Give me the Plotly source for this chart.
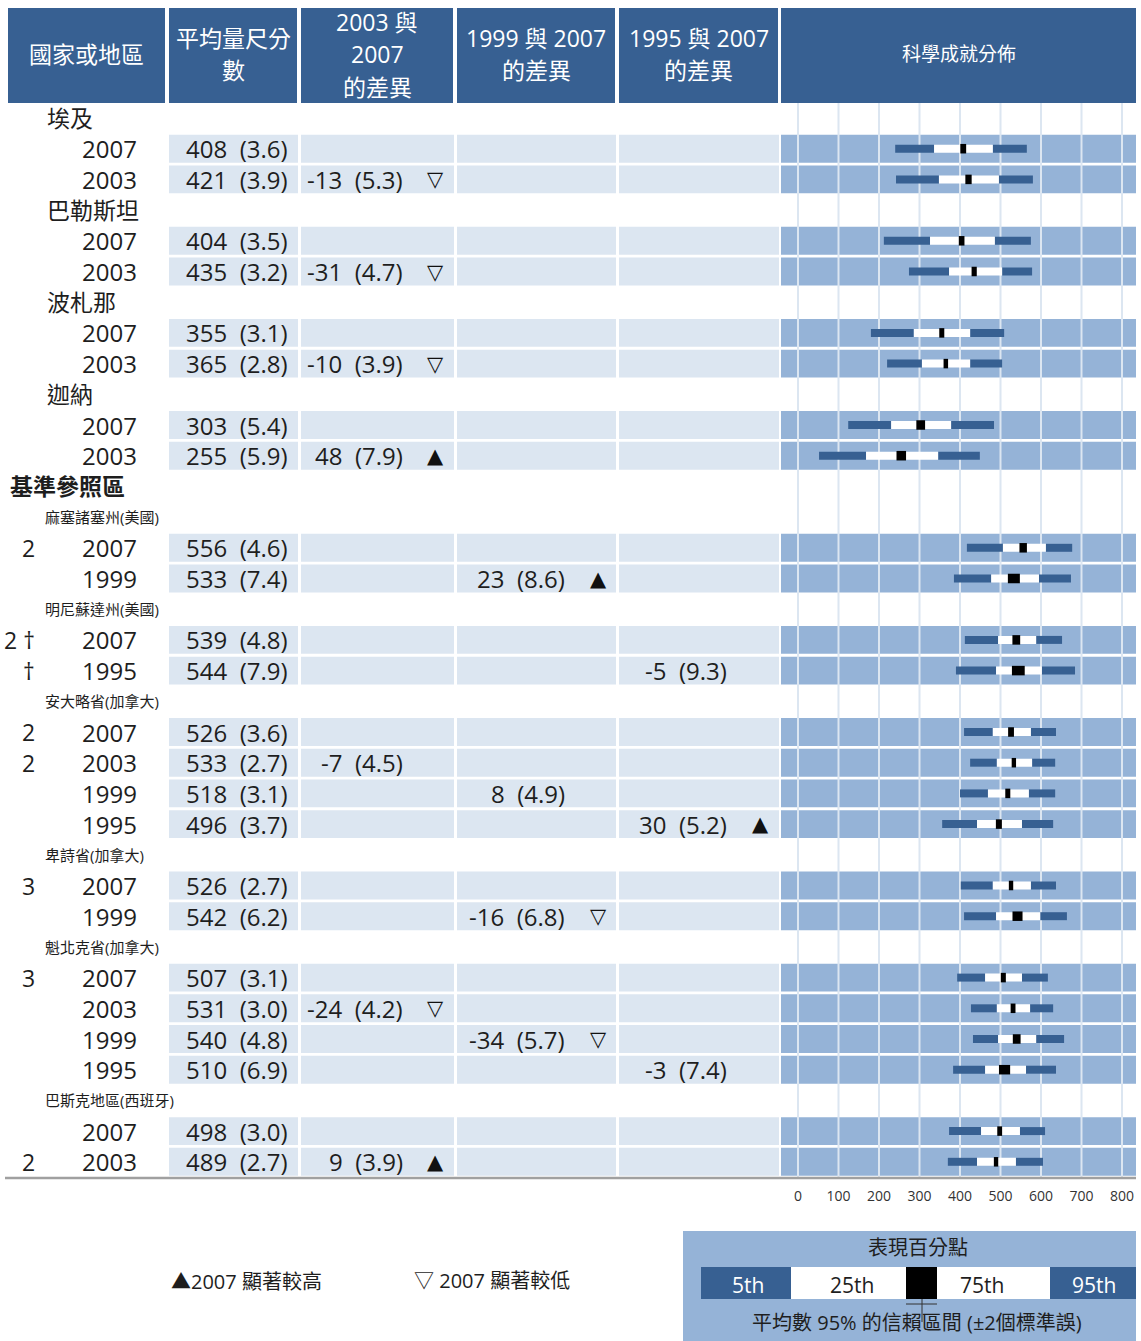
import plotly.graph_objects as go

# ---------------- data ----------------
groups = ["埃及", "巴勒斯坦", "波札那", "迦納",
          "麻塞諸塞州(美國)", "明尼蘇達州(美國)", "安大略省(加拿大)",
          "卑詩省(加拿大)", "魁北克省(加拿大)", "巴斯克地區(西班牙)"]
is_benchmark = [False, False, False, False, True, True, True, True, True, True]
group_sizes = [2, 2, 2, 2, 2, 2, 4, 2, 4, 2]

years = ["2007", "2003", "2007", "2003", "2007", "2003", "2007", "2003",
         "2007", "1999", "2007", "1995", "2007", "2003", "1999", "1995",
         "2007", "1999", "2007", "2003", "1999", "1995", "2007", "2003"]
means = [408, 421, 404, 435, 355, 365, 303, 255,
         556, 533, 539, 544, 526, 533, 518, 496,
         526, 542, 507, 531, 540, 510, 498, 489]
ses = [3.6, 3.9, 3.5, 3.2, 3.1, 2.8, 5.4, 5.9,
       4.6, 7.4, 4.8, 7.9, 3.6, 2.7, 3.1, 3.7,
       2.7, 6.2, 3.1, 3.0, 4.8, 6.9, 3.0, 2.7]
diffs = [None, -13, None, -31, None, -10, None, 48,
         None, 23, None, -5, None, -7, 8, 30,
         None, -16, None, -24, -34, -3, None, 9]
diff_ses = [None, 5.3, None, 4.7, None, 3.9, None, 7.9,
            None, 8.6, None, 9.3, None, 4.5, 4.9, 5.2,
            None, 6.8, None, 4.2, 5.7, 7.4, None, 3.9]
signif = ["", "down", "", "down", "", "down", "", "up",
          "", "up", "", "", "", "", "", "up",
          "", "down", "", "down", "down", "", "", "up"]
notes = ["", "", "", "", "", "", "", "",
         "2", "", "2 †", "†", "2", "2", "", "",
         "3", "", "3", "", "", "", "", "2"]

p5 = [240, 242, 212, 274, 180, 220, 124, 52,
      417, 385, 412, 390, 410, 425, 400, 356,
      402, 410, 393, 427, 432, 383, 373, 370]
p25 = [336, 348, 326, 373, 286, 306, 230, 168,
       506, 477, 494, 489, 481, 491, 469, 442,
       481, 489, 462, 491, 494, 462, 452, 442]
p75 = [481, 496, 486, 504, 425, 425, 378, 346,
       612, 595, 588, 602, 575, 578, 570, 553,
       575, 598, 553, 573, 588, 563, 548, 538]
p95 = [565, 580, 575, 578, 509, 504, 484, 449,
       677, 674, 652, 684, 637, 635, 635, 630,
       637, 664, 617, 630, 657, 637, 610, 605]

header_texts = [["國家或地區"], ["平均量尺分", "數"], ["2003 與", "2007", "的差異"],
                ["1999 與 2007", "的差異"], ["1995 與 2007", "的差異"], ["科學成就分佈"]]
benchmark_title = "基準參照區"
axis_ticks = [0, 100, 200, 300, 400, 500, 600, 700, 800]
legend_up = "▲2007 顯著較高"
legend_down = "▽ 2007 顯著較低"
pct_title = "表現百分點"
pct_labels = ["5th", "25th", "75th", "95th"]
pct_caption = "平均數 95% 的信賴區間 (±2個標準誤)"

# ---------------- layout geometry ----------------
W, H = 1141, 1341
ROW0, PITCH = 118, 30.7


def ry(pix):
    return (pix - ROW0) / PITCH


FONT = "Open Sans, Noto Sans CJK TC, sans-serif"
TXT = "#1e1e1e"
HEAD = "#376092"
LIGHT = "#DCE6F1"
BAND = "#95B3D7"
DARK = "#376092"
GAP = "&nbsp; "

col_x = [(8, 165), (169, 297), (301, 453), (457, 615), (619, 778), (781, 1136)]
X_LO = -17 / 0.405
X_HI = X_LO + (1136 - 781) / 0.405

# assign rows
row_of_data = []
group_rows = []
bench_row = None
r = 0
for gi, g in enumerate(groups):
    if is_benchmark[gi] and bench_row is None:
        bench_row = r
        r += 1
    group_rows.append(r)
    r += 1
    for _ in range(group_sizes[gi]):
        row_of_data.append(r)
        r += 1

shapes = []
ann = []

# header
for ci, (x0, x1) in enumerate(col_x):
    shapes.append(dict(type="rect", xref="x2", yref="y", x0=x0, x1=x1, y0=ry(8), y1=ry(103),
                       fillcolor=HEAD, line=dict(width=0), layer="below"))
    lines = header_texts[ci]
    n = len(lines)
    fs = 19 if ci == 5 else 23
    for li, t in enumerate(lines):
        yc = 54 + (li - (n - 1) / 2) * 32.5
        ann.append(dict(x=(x0 + x1) / 2, y=ry(yc), xref="x2", yref="y", text=t,
                        showarrow=False, xanchor="center", yanchor="middle",
                        font=dict(family=FONT, size=fs, color="white")))

# cells & bands for data rows
HH = 0.455
for i, rr in enumerate(row_of_data):
    for ci in range(1, 5):
        x0, x1 = col_x[ci]
        shapes.append(dict(type="rect", xref="x2", yref="y", x0=x0, x1=x1 + 1,
                           y0=rr - HH, y1=rr + HH, fillcolor=LIGHT, line=dict(width=0), layer="below"))
    shapes.append(dict(type="rect", xref="x domain", yref="y", x0=0, x1=1,
                       y0=rr - HH, y1=rr + HH, fillcolor=BAND, line=dict(width=0), layer="below"))

# grid lines in distribution panel
for v in axis_ticks:
    shapes.append(dict(type="line", xref="x", yref="y", x0=v, x1=v, y0=ry(103), y1=ry(1178),
                       line=dict(color=LIGHT, width=2), layer="below"))

# bottom rule
shapes.append(dict(type="line", xref="x2", yref="y", x0=5, x1=1136, y0=ry(1178), y1=ry(1178),
                   line=dict(color="#A0A0A0", width=2.5)))

# text: group labels
for gi, g in enumerate(groups):
    if is_benchmark[gi]:
        ann.append(dict(x=43, y=group_rows[gi], xref="x2", yref="y", text=g, showarrow=False,
                        xanchor="left", yanchor="middle", font=dict(family=FONT, size=15, color=TXT)))
    else:
        ann.append(dict(x=45, y=group_rows[gi], xref="x2", yref="y", text=g, showarrow=False,
                        xanchor="left", yanchor="middle", font=dict(family=FONT, size=23, color=TXT)))
ann.append(dict(x=8, y=bench_row, xref="x2", yref="y", text="<b>" + benchmark_title + "</b>",
                showarrow=False, xanchor="left", yanchor="middle",
                font=dict(family=FONT, size=23, color=TXT)))

diff_col = {"2003": (403, 435), "1999": (565, 598), "1995": (727, 760)}
for i, rr in enumerate(row_of_data):
    ann.append(dict(x=139, y=rr, xref="x2", yref="y", text=years[i], showarrow=False,
                    xanchor="right", yanchor="middle", font=dict(family=FONT, size=24, color=TXT)))
    ann.append(dict(x=290, y=rr, xref="x2", yref="y", text=f"{means[i]}{GAP}({ses[i]:.1f})",
                    showarrow=False, xanchor="right", yanchor="middle",
                    font=dict(family=FONT, size=24, color=TXT)))
    if notes[i]:
        ann.append(dict(x=37, y=rr, xref="x2", yref="y", text=notes[i], showarrow=False,
                        xanchor="right", yanchor="middle", font=dict(family=FONT, size=23, color=TXT)))
    if diffs[i] is not None:
        xr, xt = diff_col[years[i]]
        ann.append(dict(x=xr + 2, y=rr, xref="x2", yref="y", text=f"{diffs[i]}{GAP}({diff_ses[i]:.1f})",
                        showarrow=False, xanchor="right", yanchor="middle",
                        font=dict(family=FONT, size=24, color=TXT)))
        if signif[i]:
            sym = "▲" if signif[i] == "up" else "▽"
            ann.append(dict(x=xt, y=rr, xref="x2", yref="y", text=sym, showarrow=False,
                            xanchor="center", yanchor="middle",
                            font=dict(family="DejaVu Sans", size=21, color="#111")))

# bottom legend
ann.append(dict(x=169, y=ry(1281), xref="x2", yref="y", text=legend_up, showarrow=False,
                xanchor="left", yanchor="middle", font=dict(family=FONT, size=20, color=TXT)))
ann.append(dict(x=412, y=ry(1280), xref="x2", yref="y", text=legend_down, showarrow=False,
                xanchor="left", yanchor="middle", font=dict(family=FONT, size=20, color=TXT)))

# percentile legend box
shapes.append(dict(type="rect", xref="x2", yref="y", x0=683, x1=1136, y0=ry(1231), y1=ry(1345),
                   fillcolor=BAND, line=dict(width=0)))
seg = [(701, 791, DARK), (791, 906, "white"), (906, 937, "black"), (937, 1050, "white"), (1050, 1136, DARK)]
for x0, x1, c in seg:
    shapes.append(dict(type="rect", xref="x2", yref="y", x0=x0, x1=x1, y0=ry(1267), y1=ry(1299),
                       fillcolor=c, line=dict(width=0)))
shapes.append(dict(type="line", xref="x2", yref="y", x0=906, x1=937, y0=ry(1304), y1=ry(1304),
                   line=dict(color="#333", width=1)))
shapes.append(dict(type="line", xref="x2", yref="y", x0=922, x1=922, y0=ry(1299), y1=ry(1322),
                   line=dict(color="#333", width=1)))
ann.append(dict(x=918, y=ry(1247), xref="x2", yref="y", text=pct_title, showarrow=False,
                xanchor="center", yanchor="middle", font=dict(family=FONT, size=20, color=TXT)))
lab_pos = [(748, "white"), (852, TXT), (982, TXT), (1094, "white")]
for (xc, c), t in zip(lab_pos, pct_labels):
    ann.append(dict(x=xc, y=ry(1285), xref="x2", yref="y", text=t, showarrow=False,
                    xanchor="center", yanchor="middle", font=dict(family=FONT, size=21, color=c)))
ann.append(dict(x=917, y=ry(1322), xref="x2", yref="y", text=pct_caption, showarrow=False,
                xanchor="center", yanchor="middle", font=dict(family=FONT, size=20, color=TXT)))

# ---------------- traces ----------------
fig = go.Figure()
BW = 0.26
lo_w = [b - a for a, b in zip(p5, p25)]
mid_w = [b - a for a, b in zip(p25, p75)]
hi_w = [b - a for a, b in zip(p75, p95)]
fig.add_trace(go.Bar(y=row_of_data, x=lo_w, base=p5, orientation="h", width=BW,
                     marker=dict(color=DARK, line=dict(width=0)), hoverinfo="skip"))
fig.add_trace(go.Bar(y=row_of_data, x=hi_w, base=p75, orientation="h", width=BW,
                     marker=dict(color=DARK, line=dict(width=0)), hoverinfo="skip"))
fig.add_trace(go.Bar(y=row_of_data, x=mid_w, base=p25, orientation="h", width=BW,
                     marker=dict(color="white", line=dict(width=0)), hoverinfo="skip"))
fig.add_trace(go.Bar(y=row_of_data, x=[4 * s for s in ses], base=[m - 2 * s for m, s in zip(means, ses)],
                     orientation="h", width=0.31,
                     marker=dict(color="black", line=dict(width=0)), hoverinfo="skip"))
fig.add_trace(go.Scatter(x=[0], y=[0], xaxis="x2", yaxis="y", mode="markers",
                         marker=dict(opacity=0), hoverinfo="skip"))

fig.update_layout(
    width=W, height=H, autosize=False,
    margin=dict(l=0, r=0, t=0, b=0),
    paper_bgcolor="white", plot_bgcolor="rgba(0,0,0,0)",
    showlegend=False, barmode="overlay",
    xaxis=dict(domain=[781 / W, 1136 / W], range=[X_LO, X_HI], tickvals=axis_ticks,
               ticktext=[str(v) for v in axis_ticks], showgrid=False, zeroline=False,
               showline=False, ticks="", anchor="free", position=(H - 1186) / H,
               tickfont=dict(family=FONT, size=14, color="#333")),
    xaxis2=dict(domain=[0, 1], range=[0, W], visible=False, anchor="y"),
    yaxis=dict(domain=[0, 1], range=[ry(H), ry(0)], visible=False),
    shapes=shapes, annotations=ann,
)

fig.write_html("out.html")
